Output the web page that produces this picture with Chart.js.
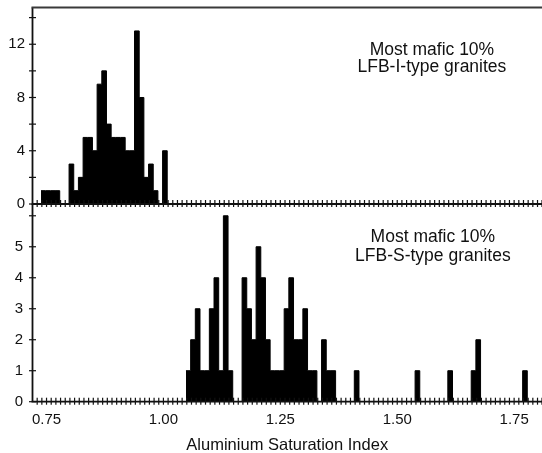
<!DOCTYPE html>
<html>
<head>
<meta charset="utf-8">
<script src="https://cdn.jsdelivr.net/npm/chart.js@4/dist/chart.umd.min.js"></script>
<style>
  html, body { margin: 0; padding: 0; background: #fff; overflow: hidden; }
  #wrap { position: relative; width: 542px; height: 453px; }
  canvas { position: absolute; left: 0; top: 0; }
</style>
</head>
<body>
<div id="wrap">
  <canvas id="iType" width="542" height="453"></canvas>
  <canvas id="sType" width="542" height="453"></canvas>
</div>
<script>
// Histogram bins: 0.01 wide in Aluminium Saturation Index (ASI)
const BIN_WIDTH = 0.01;
const X_MIN = 0.7218;
const X_MAX = 1.8114;
const X_TICK_LABELS = ['0.75', '1.00', '1.25', '1.50', '1.75'];
const X_TITLE = 'Aluminium Saturation Index';

// Most mafic 10% of LFB I-type granites: counts per bin, first bin starts at 0.74
const iTypeFirstBin = 0.74;
const iTypeCounts = [1, 1, 1, 1, 0, 0, 3, 1, 2, 5, 5, 4, 9, 10, 6, 5, 5, 5, 4, 4, 13, 8, 2, 3, 1, 0, 4];
const iTypeYMax = 14.76;
const iTypeYLabels = ['0', '4', '8', '12'];
const iTypeText = ['Most mafic 10%', 'LFB-I-type granites'];

// Most mafic 10% of LFB S-type granites: counts per bin, first bin starts at 1.05
const sTypeFirstBin = 1.05;
const sTypeCounts = [
  1, 2, 3, 1, 1, 3, 4, 1, 6, 1,
  0, 0,
  4, 3, 2, 5, 4, 2, 1, 1, 1,
  3, 4, 2, 2, 3, 1, 1,
  0,
  2, 1, 1,
  0, 0, 0, 0,
  1,
  0, 0, 0, 0, 0, 0, 0, 0, 0, 0, 0, 0,
  1,
  0, 0, 0, 0, 0, 0,
  1,
  0, 0, 0, 0,
  1, 2,
  0, 0, 0, 0, 0, 0, 0, 0, 0,
  1
];
const sTypeYMax = 6.38;
const sTypeYLabels = ['0', '1', '2', '3', '4', '5'];
const sTypeText = ['Most mafic 10%', 'LFB-S-type granites'];

const FONT = '"Liberation Sans", Arial, Helvetica, sans-serif';
const INK = '#111';

// Step outline of the histogram: one point at each bin's left edge,
// closed by the right edge of the last bin.
function binSteps(first, counts) {
  const pts = counts.map((c, i) => ({ x: first + i * BIN_WIDTH, y: c }));
  pts.push({ x: first + counts.length * BIN_WIDTH, y: 0 });
  return pts;
}

function noScalePadding(s) {
  s.paddingTop = 0;
  s.paddingBottom = 0;
  s.paddingLeft = 0;
  s.paddingRight = 0;
}

// Frame lines, crossing tick marks and the in-panel caption
const framePlugin = {
  id: 'frame',
  afterDatasetsDraw(chart, args, opts) {
    const { ctx, chartArea: a, scales } = chart;
    const xs = scales.x, ys = scales.y;
    ctx.save();
    ctx.strokeStyle = INK;
    ctx.lineCap = 'butt';

    // x tick marks along the panel's lower edge
    ctx.lineWidth = 1.2;
    xs.ticks.forEach(t => {
      const px = xs.getPixelForValue(t.value);
      if (px < a.left + 2 || px > a.right) return;
      const q = t.value * 20;
      const major = Math.abs(q - Math.round(q)) < 1e-6;
      ctx.beginPath();
      ctx.moveTo(px, a.bottom - 4);
      ctx.lineTo(px, a.bottom + (major ? 7 : 3));
      ctx.stroke();
    });

    // y tick marks crossing the left axis
    ys.ticks.forEach(t => {
      const py = ys.getPixelForValue(t.value);
      ctx.beginPath();
      ctx.moveTo(a.left - 3.5, py);
      ctx.lineTo(a.left + 3.5, py);
      ctx.stroke();
    });

    // axis lines
    ctx.lineWidth = 1.8;
    ctx.beginPath();
    ctx.moveTo(a.left, a.top);
    ctx.lineTo(a.left, a.bottom);
    ctx.moveTo(a.left - 1, a.bottom);
    ctx.lineTo(a.right, a.bottom);
    ctx.stroke();
    if (opts.topEdge) {
      ctx.strokeStyle = '#3a3a3a';
      ctx.lineWidth = 2;
      ctx.beginPath();
      ctx.moveTo(a.left - 1, a.top);
      ctx.lineTo(a.right, a.top);
      ctx.stroke();
    }

    // caption
    ctx.fillStyle = INK;
    ctx.font = '17.5px ' + FONT;
    ctx.textAlign = 'center';
    ctx.textBaseline = 'alphabetic';
    const cx = xs.getPixelForValue(opts.textAt);
    opts.lines.forEach((line, i) => {
      ctx.fillText(line, cx, ys.getPixelForValue(opts.baselines[i]));
    });
    ctx.restore();
  }
};

function makeChart(id, cfg) {
  const xTicks = {
    display: cfg.showXLabels,
    stepSize: BIN_WIDTH,
    autoSkip: false,
    maxRotation: 0,
    includeBounds: false,
    padding: 9,
    color: INK,
    font: { family: FONT, size: 15 },
    callback: v => {
      const s = Number(v).toFixed(2);
      return X_TICK_LABELS.includes(s) ? s : '';
    }
  };
  return new Chart(document.getElementById(id), {
    type: 'line',
    data: {
      datasets: [{
        data: binSteps(cfg.firstBin, cfg.counts),
        stepped: 'before',
        fill: 'origin',
        backgroundColor: '#000',
        borderColor: '#000',
        borderWidth: 1,
        borderJoinStyle: 'miter',
        pointRadius: 0,
        tension: 0
      }]
    },
    options: {
      responsive: false,
      animation: false,
      devicePixelRatio: 1,
      layout: { padding: { top: cfg.padTop, bottom: cfg.padBottom, left: 0, right: 0 } },
      plugins: {
        legend: { display: false },
        tooltip: { enabled: false },
        frame: cfg.frame
      },
      scales: {
        x: {
          type: 'linear',
          bounds: 'data',
          min: X_MIN,
          max: X_MAX,
          offset: false,
          grid: { display: false, drawTicks: false, offset: false },
          border: { display: false },
          ticks: xTicks,
          title: {
            display: cfg.showXLabels,
            text: X_TITLE,
            color: INK,
            font: { family: FONT, size: 16.5, lineHeight: 0.8 },
            padding: { top: 0, bottom: 0.5 }
          },
          afterFit: s => { s.height = cfg.xHeight; noScalePadding(s); }
        },
        y: {
          bounds: 'data',
          min: 0,
          max: cfg.yMax,
          grid: { display: false, drawTicks: false },
          border: { display: false },
          ticks: {
            stepSize: cfg.yStep,
            includeBounds: false,
            autoSkip: false,
            padding: cfg.yPad,
            color: INK,
            font: { family: FONT, size: 15 },
            callback: v => cfg.yLabels.includes(String(v)) ? String(v) : ''
          },
          afterFit: s => { s.width = 32.5; noScalePadding(s); }
        }
      }
    },
    plugins: [framePlugin]
  });
}

makeChart('iType', {
  firstBin: iTypeFirstBin,
  counts: iTypeCounts,
  yMax: iTypeYMax,
  yStep: 2,
  yLabels: iTypeYLabels,
  yPad: 7.5,
  padTop: 7.5,
  padBottom: 249,
  xHeight: 0,
  showXLabels: false,
  frame: { topEdge: true, lines: iTypeText, textAt: 1.576, baselines: [11.19, 9.89] }
});

makeChart('sType', {
  firstBin: sTypeFirstBin,
  counts: sTypeCounts,
  yMax: sTypeYMax,
  yStep: 1,
  yLabels: sTypeYLabels,
  yPad: 9.5,
  padTop: 204,
  padBottom: 0,
  xHeight: 51.3,
  showXLabels: true,
  frame: { topEdge: false, lines: sTypeText, textAt: 1.578, baselines: [5.16, 4.54] }
});
</script>
</body>
</html>
